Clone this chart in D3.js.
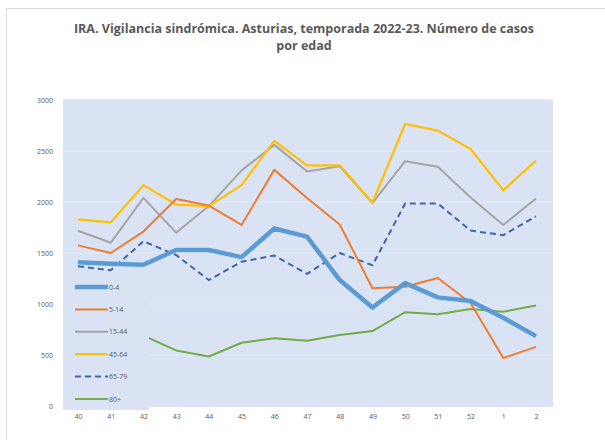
<!DOCTYPE html>
<html><head><meta charset="utf-8">
<script src="https://cdn.jsdelivr.net/npm/d3@7"></script>
<style>body{margin:0;background:#fff;}svg{display:block;}</style>
</head><body>
<svg id="c" width="605" height="440"></svg>
<script>
const weeks = ["40","41","42","43","44","45","46","47","48","49","50","51","52","1","2"];
const s0_4   = [1410,1395,1385,1530,1530,1460,1740,1660,1235,965,1205,1065,1030,865,685];
const s5_14  = [1575,1500,1710,2030,1965,1775,2315,2040,1780,1155,1170,1255,1010,470,580];
const s15_44 = [1718,1600,2040,1700,1960,2310,2560,2300,2350,1990,2400,2345,2045,1775,2035];
const s45_64 = [1830,1800,2165,1975,1960,2165,2600,2360,2360,1995,2765,2700,2520,2115,2405];
const s65_79 = [1370,1330,1615,1480,1235,1415,1475,1295,1500,1380,1985,1985,1720,1675,1860];
const s80    = [null,null,690,545,485,620,665,640,695,735,920,900,950,925,985];
const yTicks = [0,500,1000,1500,2000,2500,3000];
const seriesNames = ["0-4","5-14","15-44","45-64","65-79","80+"];
const seriesData = [s0_4,s5_14,s15_44,s45_64,s65_79,s80];
const colors = ["#5b9bd5","#ed7d31","#a5a5a5","#ffc000","#4164a8","#70ad47"];
const widths = [4.5,2,2,2.2,2,2];
const dashes = [null,null,null,null,"6,4",null];
const title = ["IRA. Vigilancia sindrómica. Asturias, temporada 2022-23. Número de casos","por edad"];

const svg = d3.select("#c");
svg.append("rect").attr("x",6.5).attr("y",8.5).attr("width",610).attr("height",440)
  .attr("fill","#fff").attr("stroke","#d9d9d9");

const tt = svg.append("g").attr("font-family","Open Sans, sans-serif").attr("font-weight","bold")
  .attr("font-size",12.5).attr("fill","#595959").attr("text-anchor","middle");
title.forEach((t,i)=>tt.append("text").attr("x",304).attr("y",33+i*17).text(t));

const plot = {x0:63,x1:553,y0:99,y1:407};
const x = d3.scalePoint().domain(weeks).range([78,536]);
const y = d3.scaleLinear().domain([0,3000]).range([406,100]);

svg.append("rect").attr("x",plot.x0).attr("y",plot.y0).attr("width",plot.x1-plot.x0)
  .attr("height",plot.y1-plot.y0).attr("fill","#dae3f3");

svg.append("g").selectAll("line").data(yTicks.slice(1)).join("line")
  .attr("x1",plot.x0).attr("x2",plot.x1).attr("y1",d=>y(d)).attr("y2",d=>y(d))
  .attr("stroke","#e6ebf5").attr("stroke-width",1);

const yAxis = svg.append("g").attr("transform","translate(55,0)")
  .call(d3.axisLeft(y).tickValues(yTicks).tickFormat(d3.format("d")).tickSize(0).tickPadding(2));
yAxis.select(".domain").remove();
yAxis.selectAll("text").attr("font-family","Open Sans, sans-serif").attr("font-size",7)
  .attr("fill","#595959").style("fill","#595959");

const xAxis = svg.append("g").attr("transform","translate(0,412)")
  .call(d3.axisBottom(x).tickSize(0).tickPadding(2));
xAxis.select(".domain").remove();
xAxis.selectAll("text").attr("font-family","Open Sans, sans-serif").attr("font-size",7)
  .attr("fill","#595959").style("fill","#595959");

const line = d3.line().defined(d=>d!=null).x((d,i)=>x(weeks[i])).y(d=>y(d));
const order = [5,4,2,3,1,0];
order.forEach(k=>{
  svg.append("path").datum(seriesData[k]).attr("d",line).attr("fill","none")
    .attr("stroke",colors[k]).attr("stroke-width",widths[k])
    .attr("stroke-dasharray",dashes[k]).attr("stroke-linejoin","round");
});

// legend
const lg = svg.append("g");
lg.append("rect").attr("x",63).attr("y",274).attr("width",86).attr("height",136).attr("fill","#dae3f3");
seriesNames.forEach((n,i)=>{
  const yy = 287 + i*22.4;
  lg.append("line").attr("x1",75).attr("x2",108).attr("y1",yy).attr("y2",yy)
    .attr("stroke",colors[i]).attr("stroke-width",widths[i]).attr("stroke-dasharray",dashes[i]);
  lg.append("text").attr("x",109).attr("y",yy+2.5).attr("font-family","Open Sans, sans-serif")
    .attr("font-size",7).attr("fill","#595959").text(n);
});
</script>
</body></html>
